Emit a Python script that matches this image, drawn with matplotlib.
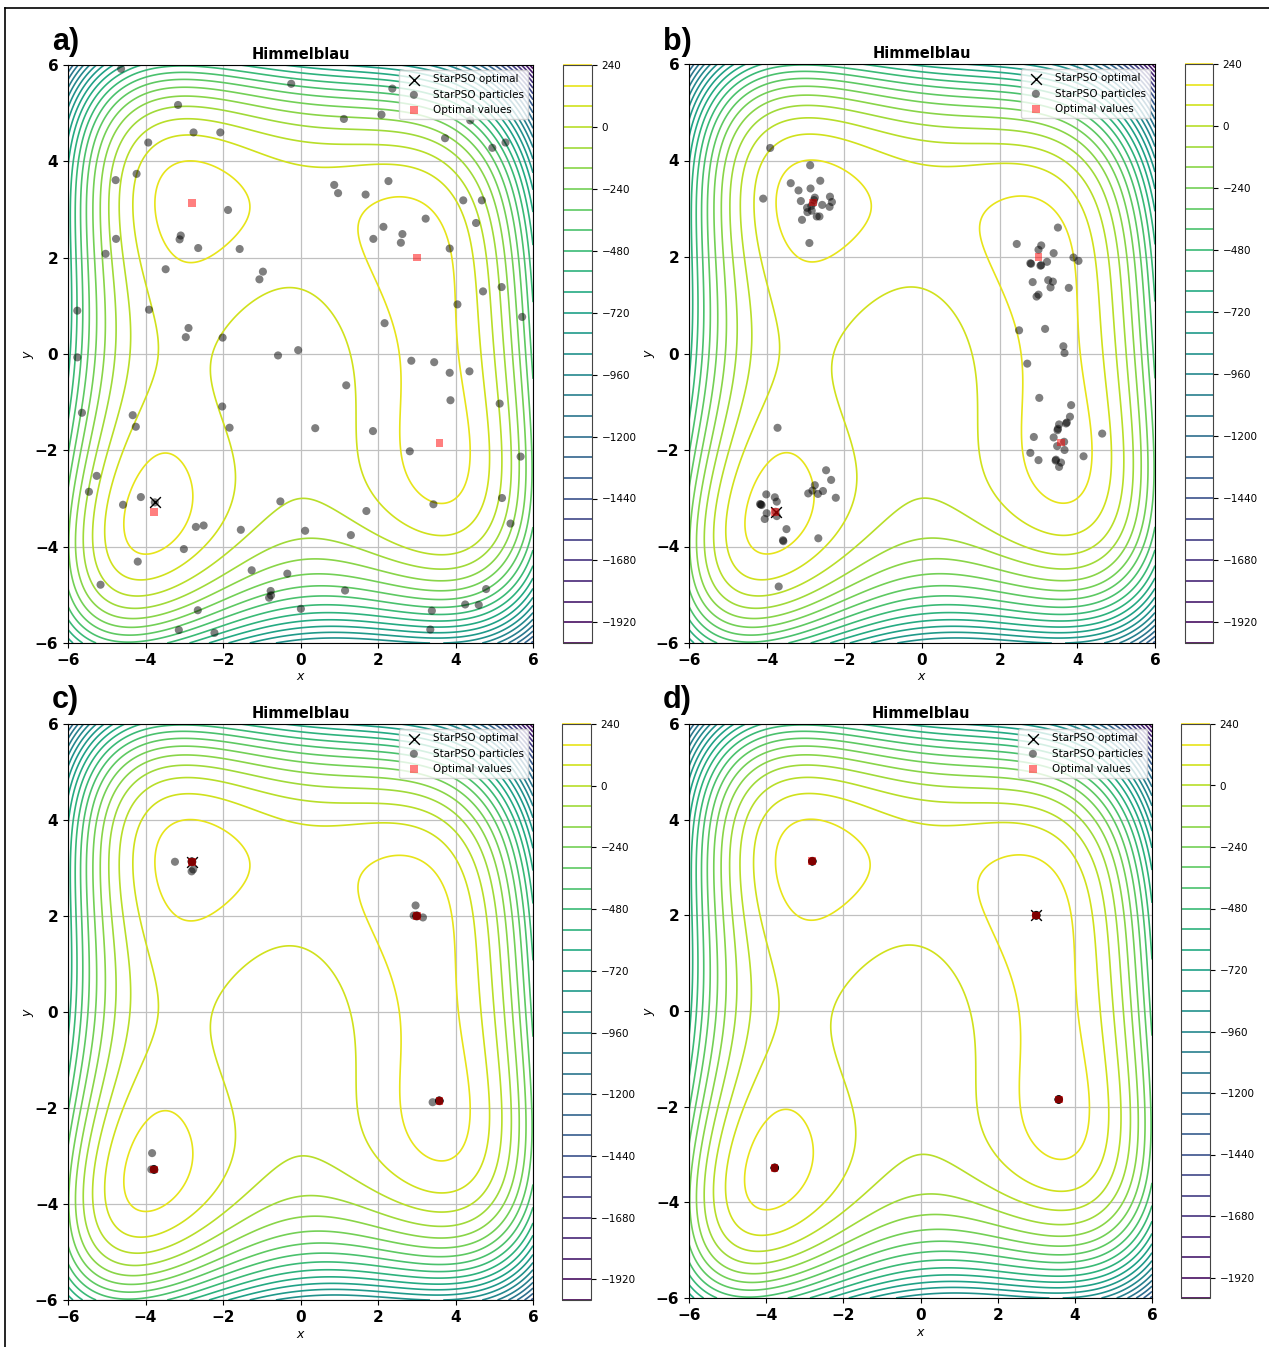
import numpy as np
import matplotlib
matplotlib.use("Agg")
import matplotlib.pyplot as plt
from matplotlib.lines import Line2D

W, H = 1269, 1347

# ---------------- data ----------------
title = "Himmelblau"
panel_labels = ["a)", "b)", "c)", "d)"]
z_offset = 200
levels = np.arange(-2000, 241, 80)
cbar_ticks = [240, 0, -240, -480, -720, -960, -1200, -1440, -1680, -1920]
axis_ticks = [-6, -4, -2, 0, 2, 4, 6]

opt_x = [3.0, -2.805118, -3.779310, 3.584428]
opt_y = [2.0, 3.131312, -3.283186, -1.848126]

# panel a: initial swarm
a_px = [-4.63, -0.24, 2.37, -3.16, 1.12, 2.09, 4.38, -2.76, -2.07, -3.93, 3.73, 4.95, 5.29,
        -4.77, -4.23, 0.87, 0.97, 1.68, 2.27, -1.87, 4.20, 4.68, 3.23, 4.53, -4.76, -5.03,
        -3.09, -3.12, -2.64, -1.57, 2.14, 2.63, 1.88, 2.59, 3.85, -3.48, -0.97, -1.06, 5.19,
        4.71, 4.05, 5.72, -5.76, -3.91, 2.17, -2.89, -2.96, -2.01, -0.06, -0.58, -5.76, 2.86,
        3.45, 3.85, 4.36, 1.18, 3.87, 5.14, -5.64, -4.33, -4.25, -2.02, -1.83, 0.38, 1.87,
        2.82, 5.68, -5.26, -5.46, -4.58, -4.12, -0.52, 1.70, 3.43, 5.20, -2.70, -2.50, -1.54,
        0.12, 1.30, 5.42, -3.01, -4.20, -5.16, -1.26, -0.34, -0.77, -0.76, -0.81, 1.15, 4.79,
        4.25, 4.60, 3.39, -2.65, 0.01, -3.14, -2.22, 3.35, -3.76]
a_py = [5.92, 5.61, 5.51, 5.17, 4.88, 4.97, 4.85, 4.60, 4.60, 4.39, 4.48, 4.28, 4.39,
        3.61, 3.74, 3.51, 3.34, 3.31, 3.59, 2.99, 3.19, 3.19, 2.81, 2.72, 2.39, 2.08,
        2.46, 2.38, 2.20, 2.18, 2.64, 2.49, 2.39, 2.31, 2.19, 1.76, 1.71, 1.55, 1.39,
        1.30, 1.03, 0.77, 0.90, 0.92, 0.64, 0.54, 0.35, 0.34, 0.08, -0.03, -0.07, -0.14,
        -0.17, -0.39, -0.36, -0.65, -0.96, -1.03, -1.22, -1.27, -1.51, -1.09, -1.53, -1.54, -1.60,
        -2.02, -2.13, -2.53, -2.86, -3.13, -2.97, -3.06, -3.26, -3.12, -2.99, -3.59, -3.56, -3.65,
        -3.67, -3.76, -3.52, -4.05, -4.31, -4.79, -4.49, -4.56, -4.92, -5.01, -5.06, -4.91, -4.88,
        -5.20, -5.21, -5.33, -5.32, -5.29, -5.73, -5.79, -5.72, -3.08]
a_best = (-3.76, -3.08)

# panel b: swarm gathering round the minima
b_px = [-3.91, -2.88, -3.38, -2.62, -3.18, -2.87, -4.09, -3.12, -2.76, -2.37, -2.32, -2.38,
        -2.57, -2.96, -2.84, -2.95, -2.71, -2.64, -3.09, -2.90, -2.78, -2.85, -2.80,
        3.50, 2.44, 3.07, 3.00, 3.39, 3.90, 4.03, 2.79, 2.81, 3.07, 3.05, 3.22, 2.85, 3.25,
        3.37, 3.31, 3.78, 3.00, 2.95, 2.50, 3.17, 3.64, 3.67, 2.71, 3.02, 3.84, 3.81, 3.73,
        3.71, 3.53, 3.50, 3.49, 4.64, 2.88, 3.39, 3.66, 3.48, 3.67, 2.79, 4.16, 3.00, 3.45,
        3.44, 3.58, 3.53,
        -3.72, -2.47, -2.34, -2.76, -2.93, -2.68, -2.55, -2.82, -2.22, -4.01, -3.79, -3.74,
        -4.17, -4.13, -4.15, -4.00, -4.05, -3.74, -3.49, -3.58, -3.57, -2.67, -3.69, -3.77]
b_py = [4.26, 3.90, 3.53, 3.58, 3.38, 3.42, 3.21, 3.16, 3.23, 3.25, 3.14, 3.04,
        3.08, 3.02, 2.96, 2.93, 2.84, 2.84, 2.77, 2.29, 3.18, 3.06, 3.12,
        2.61, 2.27, 2.24, 2.15, 2.08, 1.99, 1.92, 1.87, 1.86, 1.83, 1.82, 1.90, 1.48, 1.52,
        1.49, 1.37, 1.36, 1.22, 1.18, 0.48, 0.51, 0.15, 0.01, -0.21, -0.92, -1.07, -1.31, -1.43,
        -1.45, -1.47, -1.56, -1.59, -1.66, -1.73, -1.74, -1.83, -1.92, -2.00, -2.06, -2.13, -2.21, -2.20,
        -2.22, -2.26, -2.35,
        -1.54, -2.42, -2.62, -2.73, -2.90, -2.91, -2.85, -2.84, -2.99, -2.92, -2.98, -3.07,
        -3.12, -3.14, -3.13, -3.31, -3.43, -3.37, -3.64, -3.87, -3.89, -3.83, -4.83, -3.28]
b_best = (-3.77, -3.28)

# panel c: swarm converged, few stragglers
c_px = [-3.24, -2.81, -2.77, -2.80, -2.81, -2.79, -2.80, -2.81, -2.80,
        2.97, 2.92, 3.16, 3.00, 3.01, 2.99, 3.00, 3.00, 3.01, 2.99,
        3.41, 3.58, 3.59, 3.58, 3.58, 3.59, 3.58,
        -3.83, -3.85, -3.78, -3.77, -3.78, -3.79, -3.78, -3.78]
c_py = [3.13, 2.93, 2.97, 3.13, 3.14, 3.13, 3.12, 3.13, 3.13,
        2.22, 2.01, 1.97, 2.00, 2.01, 2.00, 1.99, 2.00, 2.00, 2.01,
        -1.88, -1.85, -1.85, -1.84, -1.85, -1.86, -1.85,
        -2.94, -3.28, -3.28, -3.29, -3.28, -3.28, -3.27, -3.28]
c_best = (-2.80, 3.13)

# panel d: whole swarm on the four minima
d_px = [-2.80, -2.81, -2.80, -2.81, -2.80, -2.80, -2.81,
        3.00, 3.00, 3.00, 3.01, 3.00, 2.99, 3.00,
        3.58, 3.59, 3.58, 3.58, 3.59, 3.58, 3.58,
        -3.78, -3.78, -3.78, -3.77, -3.78, -3.78, -3.78]
d_py = [3.13, 3.13, 3.14, 3.13, 3.13, 3.12, 3.13,
        2.00, 2.00, 2.01, 2.00, 2.00, 2.00, 1.99,
        -1.85, -1.85, -1.85, -1.84, -1.85, -1.85, -1.86,
        -3.28, -3.28, -3.29, -3.28, -3.28, -3.27, -3.28]
d_best = (3.0, 2.0)

panels = [
    (panel_labels[0], a_px, a_py, a_best, (68, 533, 65, 643), (563, 592), (52, 50)),
    (panel_labels[1], b_px, b_py, b_best, (689, 1155, 64, 643), (1185, 1213), (663, 50)),
    (panel_labels[2], c_px, c_py, c_best, (68, 533, 724, 1300), (562, 591), (52, 708)),
    (panel_labels[3], d_px, d_py, d_best, (689, 1152, 724, 1298), (1181, 1210), (663, 708)),
]

# ---------------- figure ----------------
fig = plt.figure(figsize=(W / 100, H / 100), dpi=100)

g = np.linspace(-6, 6, 500)
X, Y = np.meshgrid(g, g)
Z = z_offset - ((X ** 2 + Y - 11) ** 2 + (X + Y ** 2 - 7) ** 2)


def rect(l, r, t, b):
    return [l / W, 1 - b / H, (r - l) / W, (b - t) / H]


for lab, px, py, best, (l, r, t, b), (cl, cr), (lx, ly) in panels:
    ax = fig.add_axes(rect(l, r, t, b))
    cax = fig.add_axes(rect(cl, cr, t, b))
    cs = ax.contour(X, Y, Z, levels=levels, cmap="viridis", linewidths=1.2)
    ax.scatter([best[0]], [best[1]], marker="x", color="black", s=60, linewidths=1.0,
               label="StarPSO optimal", zorder=3)
    ax.scatter(px, py, color="black", alpha=0.5, s=34, edgecolors="none",
               label="StarPSO particles", zorder=4)
    ax.scatter(opt_x, opt_y, marker="s", color="red", alpha=0.5, s=30, edgecolors="none",
               label="Optimal values", zorder=5)
    ax.set_xlim(-6, 6)
    ax.set_ylim(-6, 6)
    ax.set_xticks(axis_ticks)
    ax.set_yticks(axis_ticks)
    ax.grid(True, color="#c0c0c0", linewidth=0.9)
    for tl in ax.get_xticklabels() + ax.get_yticklabels():
        tl.set_fontweight("bold")
        tl.set_fontsize(11)
    ax.set_xlabel("$x$", fontsize=9, labelpad=2)
    ax.set_ylabel("$y$", fontsize=9, labelpad=-1)
    ax.set_title(title, fontsize=10.5, fontweight="bold", pad=4)
    ax.legend(loc="upper right", fontsize=7.5, borderpad=0.4, handletextpad=0.8)

    cb = fig.colorbar(cs, cax=cax)
    cb.set_ticks(cbar_ticks)
    cb.ax.tick_params(labelsize=7.5)
    cb.outline.set_edgecolor("#444444")

    fig.text(lx / W, 1 - ly / H, lab, fontsize=22, fontweight="bold",
             family=["Liberation Sans Narrow", "Liberation Sans", "DejaVu Sans"])

# border lines of the composite
fig.add_artist(Line2D([5 / W, 5 / W], [0, 1 - 8 / H], color="black", linewidth=1.2,
                      transform=fig.transFigure))
fig.add_artist(Line2D([5 / W, 1], [1 - 8 / H, 1 - 8 / H], color="black", linewidth=1.2,
                      transform=fig.transFigure))

fig.savefig("out.png", dpi=100)
